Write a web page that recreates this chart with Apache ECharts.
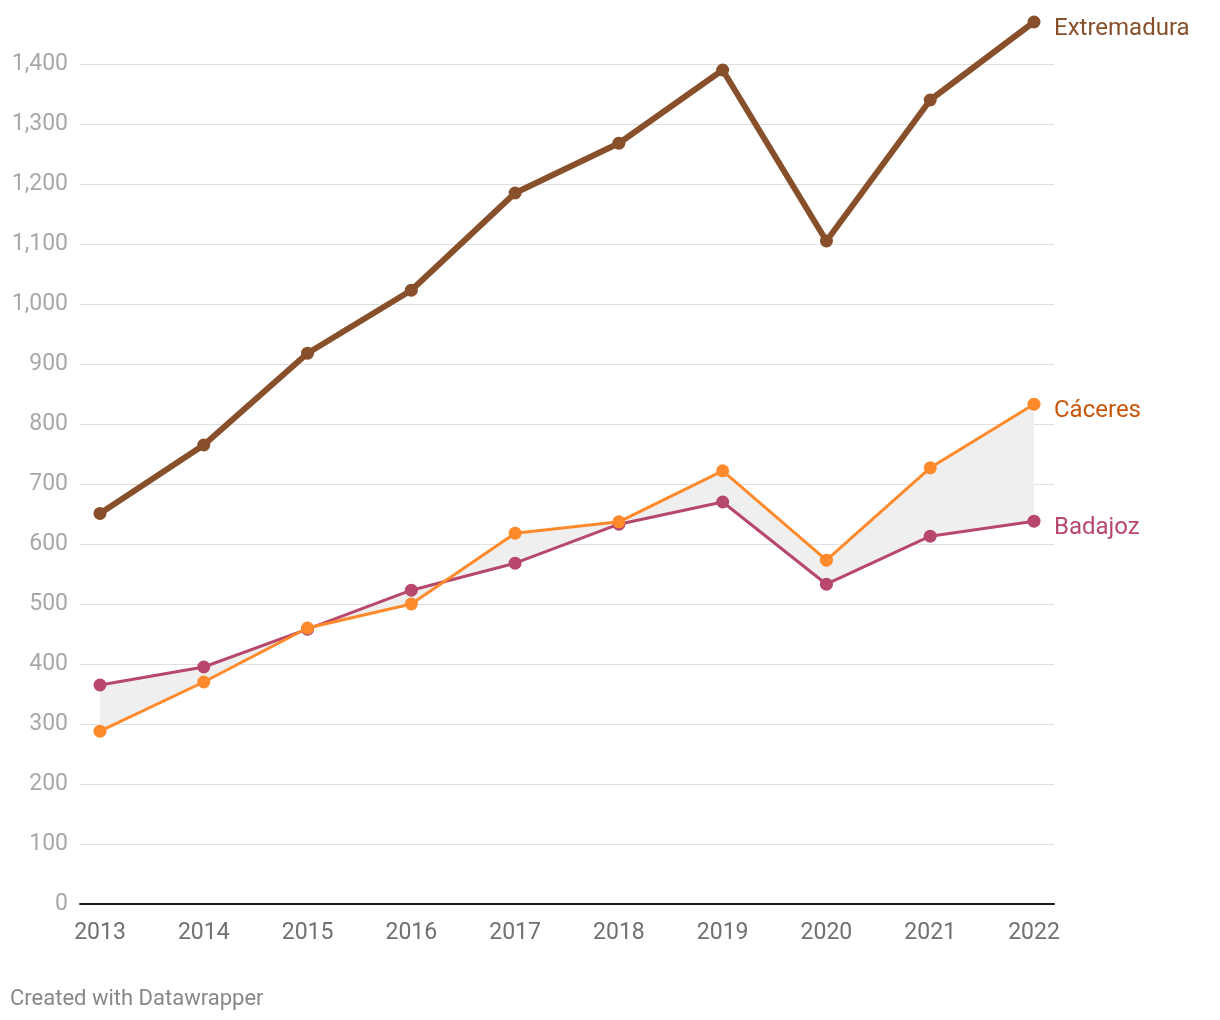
<!DOCTYPE html>
<html>
<head>
<meta charset="utf-8">
<script src="https://cdn.jsdelivr.net/npm/echarts@6/dist/echarts.min.js"></script>
<style>
html,body{margin:0;padding:0;background:#fff;}
#chart{width:1220px;height:1020px;}
</style>
</head>
<body>
<div id="chart"></div>
<script>
const years = ['2013','2014','2015','2016','2017','2018','2019','2020','2021','2022'];
const extremadura = [651, 765, 918, 1023, 1185, 1268, 1390, 1105, 1340, 1470];
const caceres = [288, 370, 460, 500, 618, 637, 722, 573, 727, 833];
const badajoz = [365, 395, 458, 523, 568, 633, 670, 533, 613, 638];

const FONT = 'Roboto';
const chart = echarts.init(document.getElementById('chart'));

const gridTop = 64, gridBottom = 116;

chart.setOption({
  animation: false,
  backgroundColor: '#ffffff',
  textStyle: { fontFamily: FONT },
  grid: [
    { left: 100, right: 186, top: gridTop, bottom: gridBottom },
    { left: 80, right: 166, top: gridTop, bottom: gridBottom }
  ],
  xAxis: [
    {
      gridIndex: 0, type: 'category', data: years, boundaryGap: false,
      axisLine: { show: false }, axisTick: { show: false }, splitLine: { show: false },
      axisLabel: { color: '#707070', fontSize: 23, margin: 18, fontFamily: FONT }
    },
    {
      gridIndex: 1, type: 'value', min: 0, max: 1,
      axisLine: { show: true, onZero: false, lineStyle: { color: '#1a1a1a', width: 2 } },
      axisTick: { show: false }, axisLabel: { show: false }, splitLine: { show: false }
    }
  ],
  yAxis: [
    {
      gridIndex: 0, type: 'value', min: 0, max: 1400, interval: 100, show: false
    },
    {
      gridIndex: 1, type: 'value', min: 0, max: 1400, interval: 100,
      axisLine: { show: false }, axisTick: { show: false },
      splitLine: { lineStyle: { color: '#e0e0e0', width: 1 } },
      axisLabel: {
        color: '#a8a8a8', fontSize: 23, margin: 12, fontFamily: FONT,
        padding: [4, 0, 0, 0],
        formatter: v => v.toLocaleString('en-US')
      }
    }
  ],
  graphic: [
    {
      type: 'text', left: 10, top: 988,
      style: { text: 'Created with Datawrapper', fill: '#888888', fontSize: 22, fontFamily: FONT }
    }
  ],
  series: [
    {
      type: 'custom', xAxisIndex: 0, yAxisIndex: 0, silent: true, z: 1,
      data: [[0, 0]],
      clip: false,
      renderItem: function (params, api) {
        const pts = [];
        for (let i = 0; i < years.length; i++) pts.push(api.coord([i, caceres[i]]));
        for (let i = years.length - 1; i >= 0; i--) pts.push(api.coord([i, badajoz[i]]));
        return {
          type: 'polygon',
          shape: { points: pts },
          style: { fill: '#efefef', stroke: null }
        };
      }
    },
    {
      name: 'Badajoz', type: 'line', data: badajoz, xAxisIndex: 0, yAxisIndex: 0,
      symbol: 'circle', symbolSize: 13, clip: false, z: 3,
      lineStyle: { color: '#b8486b', width: 3 },
      itemStyle: { color: '#b8486b' },
      endLabel: { show: true, formatter: '{a}', color: '#b8486b', fontSize: 24, distance: 20, offset: [0, 7], fontFamily: FONT }
    },
    {
      name: 'Cáceres', type: 'line', data: caceres, xAxisIndex: 0, yAxisIndex: 0,
      symbol: 'circle', symbolSize: 13, clip: false, z: 4,
      lineStyle: { color: '#ff8a2b', width: 3 },
      itemStyle: { color: '#ff8a2b' },
      endLabel: { show: true, formatter: '{a}', color: '#c9570c', fontSize: 24, distance: 20, offset: [0, 7], fontFamily: FONT }
    },
    {
      name: 'Extremadura', type: 'line', data: extremadura, xAxisIndex: 0, yAxisIndex: 0,
      symbol: 'circle', symbolSize: 13, clip: false, z: 5,
      lineStyle: { color: '#87502a', width: 6 },
      itemStyle: { color: '#87502a' },
      endLabel: { show: true, formatter: '{a}', color: '#87502a', fontSize: 24, distance: 20, offset: [0, 7], fontFamily: FONT }
    }
  ]
});
</script>
</body>
</html>
